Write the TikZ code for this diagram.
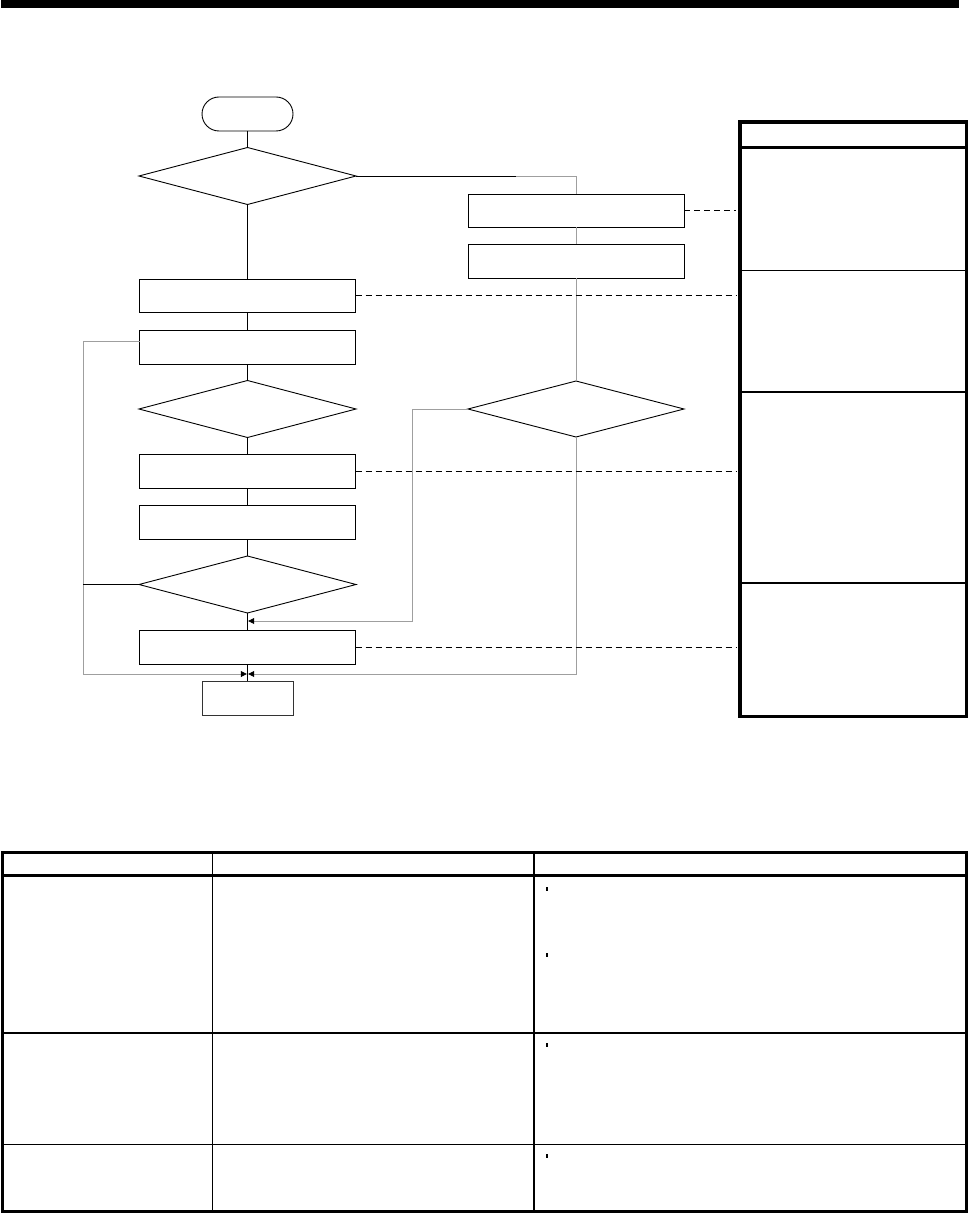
\documentclass[tikz,border=0pt]{standalone}
\usetikzlibrary{shapes.geometric,arrows.meta}
\begin{document}
\begin{tikzpicture}[x=1pt,y=-1pt,
  flowbox/.style={draw=black,line width=0.9pt,minimum width=216pt,minimum height=34pt,inner sep=0pt,outer sep=0pt},
  term/.style={draw=black,line width=0.9pt,minimum width=91pt,minimum height=34pt,inner sep=0pt,outer sep=0pt},
  dec/.style={draw=black,line width=0.9pt,diamond,minimum width=217pt,minimum height=57pt,inner sep=0pt,outer sep=0pt},
  conn/.style={line width=0.8pt,black},
  gconn/.style={line width=0.8pt,gray!75},
  tip/.style={-{Triangle[length=6pt,width=6pt,color=black,fill=black]}},
  leader/.style={line width=0.8pt,black,dash pattern=on 6pt off 4pt},
  thickrule/.style={line width=3pt,black},
]
\useasboundingbox (0,0) rectangle (969,1214);
% top bar
\fill[black] (1,0) rectangle (959,8.5);

% left column
\node[term,rounded corners=17pt] (start) at (247.5,114) {};
\node[dec] (d1) at (247.5,176) {};
\node[flowbox,minimum height=33pt] (bA) at (247.5,295.5) {};
\node[flowbox] (bB) at (247.5,347) {};
\node[dec] (d2) at (247.5,409) {};
\node[flowbox] (bC) at (247.5,471) {};
\node[flowbox] (bD) at (247.5,522) {};
\node[dec] (d3) at (247.5,584.5) {};
\node[flowbox] (bE) at (247.5,647) {};
\node[term,draw=black!80] (end) at (247.5,698) {};

% right column
\node[flowbox,minimum height=33pt] (bF) at (576,210.5) {};
\node[flowbox] (bG) at (576,261) {};
\node[dec,minimum width=216pt,minimum height=56pt] (dR) at (576,409) {};

\coordinate (j1) at (248.2,621);
\coordinate (j2a) at (246.8,674);
\coordinate (j2b) at (248.2,674);

% main flow
\draw[conn] (start) -- (d1);
\draw[conn] (d1) -- (bA);
\draw[conn] (bA) -- (bB);
\draw[conn] (bB) -- (d2);
\draw[conn] (d2) -- (bC);
\draw[conn] (bC) -- (bD);
\draw[conn] (bD) -- (d3);
\draw[conn] (d3) -- (bE);
\draw[conn] (bE) -- (end);

% right branch
\draw[gconn] (d1.east) -| (bF.north);
\draw[conn] (d1.east) -- ++(160,0);
\draw[gconn] (bF) -- (bG);
\draw[gconn] (bG) -- (dR);
\draw[gconn,tip] (dR.west) -- ++(-56,0) |- (j1);
\draw[gconn,tip] (dR.south) |- (j2b);

% loop back on left
\draw[gconn,tip] ([yshift=6pt]bB.west) -| (83,674) -- (j2a);
\draw[conn] (d3.west) -- (83,584.5);

% leaders
\draw[leader] (bF.east) -- (736,210.5);
\draw[leader] (bA.east) -- (736,295.5);
\draw[leader] (bC.east) -- (736,471);
\draw[leader] (bE.east) -- (736,647);

% side panel
\draw[line width=3.5pt] (740,122) rectangle (966.5,716.5);
\draw[thickrule] (740,148) -- (966.5,148);
\draw[line width=1.2pt] (740,270.5) -- (966.5,270.5);
\draw[line width=2.5pt] (740,392) -- (966.5,392);
\draw[line width=2.5pt] (740,583) -- (966.5,583);

% table
\draw[line width=3pt] (2,852) rectangle (966,1211.5);
\draw[thickrule] (2,875.5) -- (966,875.5);
\draw[line width=2.3pt] (2,1032.7) -- (966,1032.7);
\draw[line width=1.3pt] (2,1144.3) -- (966,1144.3);
\draw[line width=1.3pt] (212.3,852) -- (212.3,1211.5);
\draw[line width=1.3pt] (534,852) -- (534,1211.5);
\foreach \yy in {889.3,955.3,1045,1156.3}
  \fill[black] (546,\yy-2) rectangle (547.6,\yy+2);
\end{tikzpicture}
\end{document}
